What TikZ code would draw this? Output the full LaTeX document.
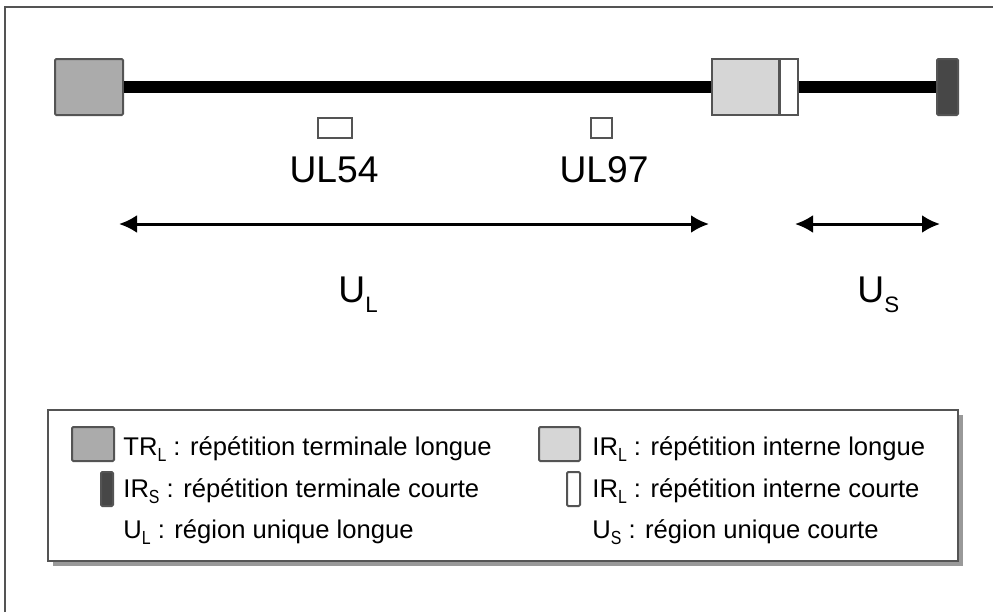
\documentclass[tikz,border=0pt]{standalone}
\usepackage{fontspec}
\setmainfont{Liberation Sans}
\usepackage{graphicx}
\usetikzlibrary{arrows.meta}

\definecolor{trgray}{gray}{0.67}
\definecolor{irlgray}{gray}{0.84}
\definecolor{irsgray}{gray}{0.28}
\definecolor{edgegray}{gray}{0.33}
\definecolor{shadowgray}{gray}{0.6}

% small subscript set low under the letter before it
\newcommand{\lowsub}[1]{\raisebox{-.27em}{\scalebox{.6}{#1}}}
% same, narrower, for the key
\newcommand{\keysub}[1]{\raisebox{-.27em}{\scalebox{.62}[.74]{#1}}}

\tikzset{
	repeatbox/.style={draw=edgegray, line width=1pt, inner sep=0pt, rounded corners=0.6pt},
	squarebox/.style={draw=edgegray, line width=1pt, inner sep=0pt},
	markerbox/.style={draw=edgegray, line width=0.8pt, fill=white, inner sep=0pt},
	genome/.style={line width=6pt},
	span/.style={line width=1.5pt, {Latex[length=9pt,width=9pt]}-{Latex[length=9pt,width=9pt]}},
	biglabel/.style={font=\fontsize{18.6}{22}\selectfont, inner sep=0pt},
	legendtext/.style={font=\fontsize{12.8}{15}\selectfont, anchor=base west, inner sep=0pt},
}

\begin{document}
\begin{tikzpicture}[x=0.5pt, y=-0.5pt]
\useasboundingbox (0,0) rectangle (993,612);

% frame, only top and left edges
\draw[edgegray, line width=1pt] (5,612) -- (5,7) -- (993,7);

% the chloroplast genome: repeats joined by the unique regions
\node[repeatbox, fill=trgray, minimum width=34pt, minimum height=28pt] (trl) at (89,87) {};
\node[squarebox, fill=irlgray, minimum width=33.5pt, minimum height=28pt] (irl) at (745.5,87) {};
\node[squarebox, fill=white, minimum width=9pt, minimum height=28pt, anchor=west] (irc) at ([xshift=-0.5pt]irl.east) {};
\node[repeatbox, fill=irsgray, minimum width=10.5pt, minimum height=28pt] (irs) at (947.5,87) {};
\draw[genome] (trl.east) -- (irl.west);
\draw[genome] (irc.east) -- (irs.west);

% markers in the long unique region
\node[markerbox, minimum width=17pt, minimum height=10pt] (ul54box) at (335,128) {};
\node[markerbox, minimum width=10.5pt, minimum height=10pt] (ul97box) at (601.5,128) {};
\node[biglabel, anchor=base] (ul54) at (334,182) {UL54};
\node[biglabel, anchor=base] (ul97) at (604,182) {UL97};

% extent of the unique regions
\coordinate (ulleft) at (119,224);
\coordinate (ulright) at (709,224);
\coordinate (usleft) at (795,224);
\coordinate (usright) at (940,224);
\draw[span] (ulleft) -- (ulright);
\draw[span] (usleft) -- (usright);
\node[biglabel, anchor=base west] (ullabel) at (338,302) {U\lowsub{L}};
\node[biglabel, anchor=base west] (uslabel) at (857,302) {U\lowsub{S}};

% legend
\fill[shadowgray] (53,415) rectangle (963,566);
\draw[edgegray, line width=1pt, fill=white] (48,410) rectangle (958,561);

\node[repeatbox, fill=trgray, minimum width=21pt, minimum height=17pt] (keytrl) at (93,444) {};
\node[repeatbox, fill=irsgray, minimum width=6pt, minimum height=17pt] (keyirs) at (107,489) {};
\node[legendtext] (texttrl) at (123,455) {TR\keysub{L} : répétition terminale longue};
\node[legendtext] (textirs) at (123,497) {IR\keysub{S} : répétition terminale courte};
\node[legendtext] (textul) at (123,538) {U\keysub{L} : région unique longue};

\node[repeatbox, fill=irlgray, minimum width=20.5pt, minimum height=17pt] (keyirl) at (559.5,444) {};
\node[repeatbox, fill=white, minimum width=6.5pt, minimum height=17pt] (keyirc) at (573.5,489) {};
\node[legendtext] (textirl) at (592,455) {IR\keysub{L} : répétition interne longue};
\node[legendtext] (textirc) at (592,497) {IR\keysub{L} : répétition interne courte};
\node[legendtext] (textus) at (592,538) {U\keysub{S} : région unique courte};

\end{tikzpicture}
\end{document}
